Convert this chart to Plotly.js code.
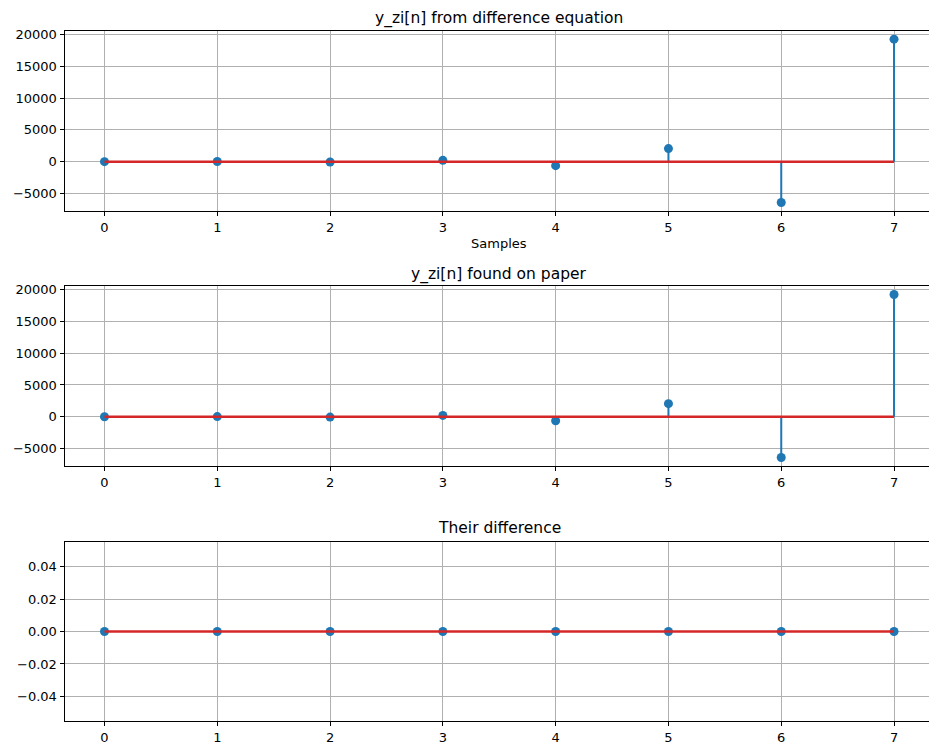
<!DOCTYPE html>
<html>
<head>
<meta charset="utf-8">
<script src="https://cdn.plot.ly/plotly-3.0.1.min.js"></script>
<style>html,body{margin:0;padding:0;background:#fff;}#chart{width:929px;height:742px;}</style>
</head>
<body>
<div id="chart"></div>
<script>
// ---- data ----
const samples = [0, 1, 2, 3, 4, 5, 6, 7];
const yziDiffEq = [0, 20, -60, 200, -630, 2050, -6430, 19250];
const yziPaper = [0, 20, -60, 200, -630, 2050, -6430, 19250];
const difference = [0, 0, 0, 0, 0, 0, 0, 0];
const titles = ["y_zi[n] from difference equation", "y_zi[n] found on paper", "Their difference"];
const xLabel = "Samples";

const STEM = "#1f77b4", BASE = "#d62728", GRID = "#b0b0b0";
const FONT = "DejaVu Sans";

function stemTraces(x, y, xa, ya) {
  const sx = [], sy = [];
  x.forEach((xi, i) => { sx.push(xi, xi, null); sy.push(0, y[i], null); });
  return [
    {x: sx, y: sy, xaxis: xa, yaxis: ya, mode: "lines", type: "scatter",
     line: {color: STEM, width: 2}, hoverinfo: "skip", showlegend: false},
    {x: x, y: y, xaxis: xa, yaxis: ya, mode: "markers", type: "scatter",
     marker: {color: STEM, size: 9}, showlegend: false},
    {x: [x[0], x[x.length - 1]], y: [0, 0], xaxis: xa, yaxis: ya, mode: "lines", type: "scatter",
     line: {color: BASE, width: 2.5}, hoverinfo: "skip", showlegend: false}
  ];
}

function autoRange(arr) {
  let lo = Math.min(...arr), hi = Math.max(...arr);
  if (hi === lo) { return [lo - 0.055, hi + 0.055]; }
  const pad = 0.05 * (hi - lo);
  return [lo - pad, hi + pad];
}

const data = [].concat(
  stemTraces(samples, yziDiffEq, "x", "y"),
  stemTraces(samples, yziPaper, "x2", "y2"),
  stemTraces(samples, difference, "x3", "y3")
);

const xDomain = [65 / 929, 1];
const xRange = [-0.35, 7.31];
const yDomains = [[1 - 210.7 / 742, 1 - 31 / 742], [1 - 465.7 / 742, 1 - 286.3 / 742], [1 - 720.7 / 742, 1 - 542.3 / 742]];

function xaxis(anchor) {
  return {domain: xDomain, range: xRange, anchor: anchor, tickmode: "linear", tick0: 0, dtick: 1,
    showgrid: true, gridcolor: GRID, gridwidth: 1, zeroline: false,
    showline: true, linecolor: "#000", linewidth: 1, mirror: true,
    ticks: "outside", ticklen: 4.5, tickcolor: "#000", tickwidth: 1,
    tickfont: {family: FONT, size: 13, color: "#000"}, fixedrange: true};
}
function yaxis(anchor, dom, range, dtick, fmt) {
  return {domain: dom, range: range, anchor: anchor, tickmode: "linear", tick0: 0, dtick: dtick,
    tickformat: fmt, showgrid: true, gridcolor: GRID, gridwidth: 1, zeroline: false,
    showline: true, linecolor: "#000", linewidth: 1, mirror: false,
    ticks: "outside", ticklen: 4.5, tickcolor: "#000", tickwidth: 1,
    tickfont: {family: FONT, size: 13, color: "#000"}, fixedrange: true};
}

const cx = (65 + 933) / 2 / 929;
function ann(text, ypx, size) {
  return {text: text, xref: "paper", yref: "paper", x: cx, y: 1 - ypx / 742,
    xanchor: "center", yanchor: "middle", showarrow: false,
    font: {family: FONT, size: size, color: "#000"}};
}

const layout = {
  width: 929, height: 742,
  margin: {l: 0, r: 0, t: 0, b: 0},
  paper_bgcolor: "#fff", plot_bgcolor: "#fff",
  showlegend: false,
  xaxis: xaxis("y"), yaxis: yaxis("x", yDomains[0], autoRange(yziDiffEq), 5000, "d"),
  xaxis2: xaxis("y2"), yaxis2: yaxis("x2", yDomains[1], autoRange(yziPaper), 5000, "d"),
  xaxis3: xaxis("y3"), yaxis3: yaxis("x3", yDomains[2], autoRange(difference), 0.02, ".2f"),
  annotations: [
    ann(titles[0], 19, 15.5),
    ann(xLabel, 243, 13),
    ann(titles[1], 274, 15.5),
    ann(titles[2], 528, 15.5)
  ]
};

Plotly.newPlot("chart", data, layout, {displayModeBar: false, staticPlot: true});
</script>
</body>
</html>
